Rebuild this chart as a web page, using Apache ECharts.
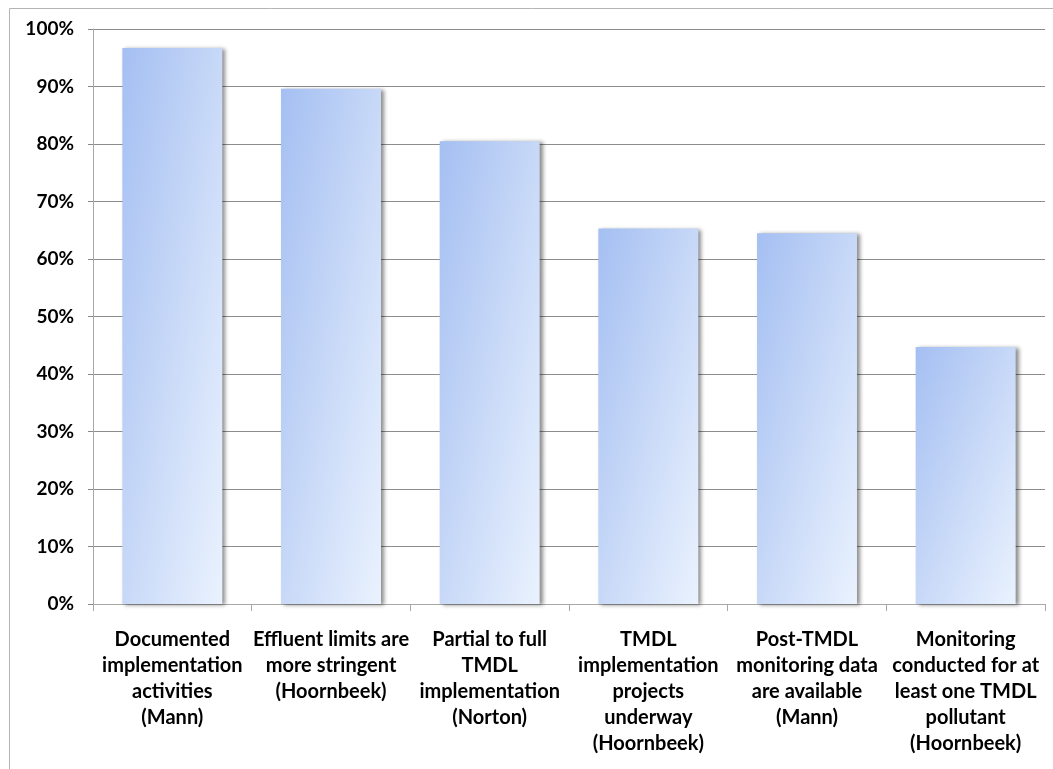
<!DOCTYPE html>
<html>
<head>
<meta charset="utf-8">
<script src="https://cdn.jsdelivr.net/npm/echarts@6/dist/echarts.min.js"></script>
<style>
  html, body { margin: 0; padding: 0; background: #fff; }
  #chart { width: 1053px; height: 769px; }
</style>
</head>
<body>
<div id="chart"></div>
<script>
const categories = [
  "Documented\nimplementation\nactivities\n(Mann)",
  "Effluent limits are\nmore stringent\n(Hoornbeek)",
  "Partial to full\nTMDL\nimplementation\n(Norton)",
  "TMDL\nimplementation\nprojects\nunderway\n(Hoornbeek)",
  "Post-TMDL\nmonitoring data\nare available\n(Mann)",
  "Monitoring\nconducted for at\nleast one TMDL\npollutant\n(Hoornbeek)",
];
const shareValues = [96.7, 89.6, 80.5, 65.3, 64.5, 44.7];
const yTicks = { min: 0, max: 100, interval: 10 };

const FONT = "Lato, 'Open Sans', sans-serif";

const GRID = { left: 93, right: 8, top: 29, bottom: 165 };
const BAR_RATIO = 0.63;

const chart = echarts.init(document.getElementById("chart"), null, { renderer: "canvas" });

// gradient that runs corner to corner of each bar, so the shade changes
// as much across the narrow width as it does down the tall height
function barGradient(params) {
  const plotW = chart.getWidth() - GRID.left - GRID.right;
  const plotH = chart.getHeight() - GRID.top - GRID.bottom;
  const w = (plotW / categories.length) * BAR_RATIO;
  const h = Math.max(1, (params.value / yTicks.max) * plotH);
  const d = h * h + w * w;
  const x2 = (2 * h * h) / d;
  const y2 = (2 * w * w) / d;
  return new echarts.graphic.LinearGradient(0, 0, x2, y2, [
    { offset: 0, color: "#a4bff2" },
    { offset: 0.45, color: "#c4d6f7" },
    { offset: 1, color: "#eaf2fe" },
  ]);
}

chart.setOption({
  backgroundColor: "#ffffff",
  animation: false,
  graphic: [
    {
      type: "rect",
      shape: { x: 9.5, y: 8.5, width: 1060, height: 780 },
      style: { fill: "none", stroke: "#b4b4b4", lineWidth: 1 },
      silent: true,
    },
  ],
  grid: { ...GRID, containLabel: false },
  xAxis: {
    type: "category",
    data: categories,
    axisLine: { show: true, lineStyle: { color: "#a8a8a8", width: 1 } },
    axisTick: { show: true, length: 7, alignWithLabel: false, lineStyle: { color: "#a8a8a8" } },
    axisLabel: {
      interval: 0,
      margin: 23,
      color: "#000",
      fontFamily: FONT,
      fontWeight: "bold",
      fontSize: 20,
      lineHeight: 26,
      align: "center",
    },
  },
  yAxis: {
    type: "value",
    min: yTicks.min,
    max: yTicks.max,
    interval: yTicks.interval,
    axisLine: { show: true, lineStyle: { color: "#a8a8a8", width: 1 } },
    axisTick: { show: true, length: 5, lineStyle: { color: "#888" } },
    axisLabel: {
      margin: 19,
      color: "#000",
      fontFamily: FONT,
      fontWeight: "bold",
      fontSize: 19,
      formatter: (v) => v + "%",
    },
    splitLine: { show: true, lineStyle: { color: "#8c8c8c", width: 1 } },
  },
  series: [
    {
      type: "bar",
      data: shareValues,
      barWidth: BAR_RATIO * 100 + "%",
      itemStyle: {
        color: barGradient,
        shadowColor: "rgba(0,0,0,0.45)",
        shadowBlur: 4,
        shadowOffsetX: 3,
        shadowOffsetY: 1,
      },
    },
  ],
});
</script>
</body>
</html>
